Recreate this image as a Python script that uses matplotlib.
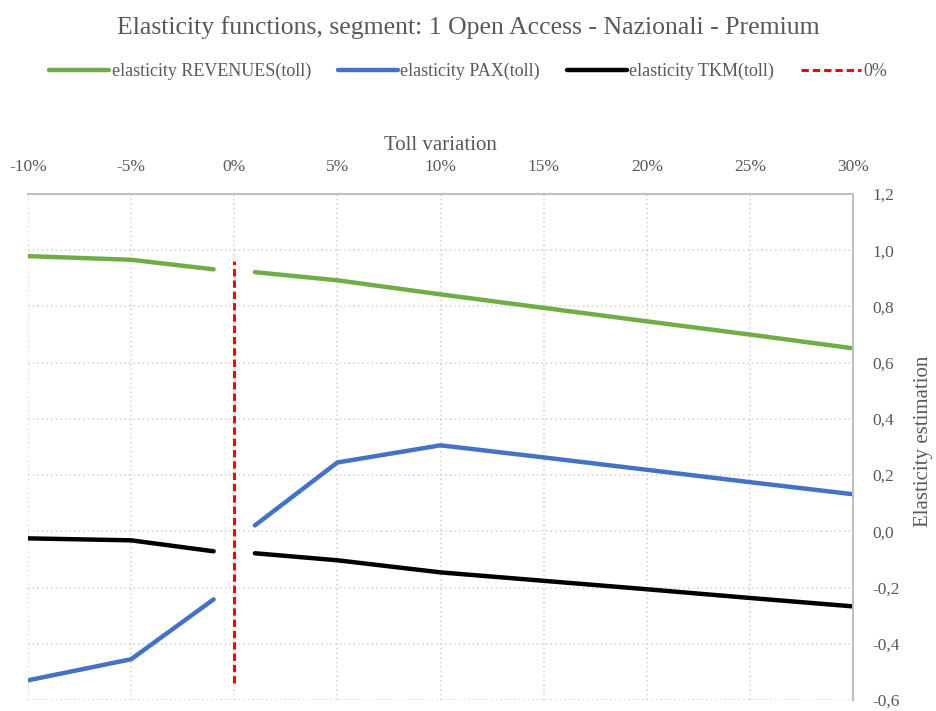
import matplotlib
matplotlib.use("Agg")
from matplotlib import pyplot as plt
from matplotlib.ticker import FuncFormatter

plt.rcParams['font.family'] = ['Liberation Serif', 'DejaVu Serif']

# Dati (variazione pedaggio in %)
variazione_neg = [-10, -5, -1]
variazione_pos = [1, 5, 10, 15, 20, 25, 30]

revenues_neg = [0.979, 0.966, 0.932]
revenues_pos = [0.922, 0.893, 0.843, 0.795, 0.747, 0.700, 0.651]

pax_neg = [-0.530, -0.455, -0.242]
pax_pos = [0.021, 0.245, 0.306, 0.263, 0.219, 0.175, 0.132]

tkm_neg = [-0.025, -0.032, -0.071]
tkm_pos = [-0.078, -0.103, -0.146, -0.176, -0.206, -0.237, -0.267]

linea_zero_x = [0, 0]
linea_zero_y = [-0.54, 0.96]

grigio = '#595959'
verde = '#70AD47'
blu = '#4472C4'

fig = plt.figure(figsize=(9.37, 7.11), dpi=100)
ax = fig.add_axes([28 / 937, 11 / 711, 825 / 937, 506 / 711])

ax.plot(variazione_neg, revenues_neg, color=verde, lw=3.2, solid_capstyle='round', label='elasticity REVENUES(toll)')
ax.plot(variazione_pos, revenues_pos, color=verde, lw=3.2, solid_capstyle='round')
ax.plot(variazione_neg, pax_neg, color=blu, lw=3.2, solid_capstyle='round', label='elasticity PAX(toll)')
ax.plot(variazione_pos, pax_pos, color=blu, lw=3.2, solid_capstyle='round')
ax.plot(variazione_neg, tkm_neg, color='black', lw=3.2, solid_capstyle='round', label='elasticity TKM(toll)')
ax.plot(variazione_pos, tkm_pos, color='black', lw=3.2, solid_capstyle='round')
ax.plot(linea_zero_x, linea_zero_y, color='#FF0000', lw=2.2, ls=(0, (2.4, 1.3)), label='0%')

ax.set_xlim(-10, 30)
ax.set_ylim(-0.6, 1.2)
ax.set_xticks(range(-10, 31, 5))
ax.set_yticks([-0.6 + 0.2 * i for i in range(10)])
ax.xaxis.set_major_formatter(FuncFormatter(lambda v, p: f'{v:.0f}%'))
ax.yaxis.set_major_formatter(FuncFormatter(lambda v, p: f'{v:.1f}'.replace('.', ',')))

ax.xaxis.tick_top()
ax.xaxis.set_label_position('top')
ax.yaxis.tick_right()
ax.tick_params(length=0, labelsize=12.5, labelcolor=grigio)
ax.tick_params(axis='x', pad=14)
ax.tick_params(axis='y', pad=14)

ax.grid(True, color='#d0d0d0', ls=(0, (1, 2)), lw=1.1)
for s in ['left', 'bottom']:
    ax.spines[s].set_visible(False)
for s in ['top', 'right']:
    ax.spines[s].set_color('#bfbfbf')
    ax.spines[s].set_linewidth(1.5)

ax.set_xlabel('Toll variation', fontsize=15, color=grigio, labelpad=6)
# etichetta asse y a destra, vicino al bordo come nell'originale
fig.text(924 / 937, 1 - 441 / 711, 'Elasticity estimation', rotation=90,
         ha='center', va='center', fontsize=15, color=grigio)

fig.suptitle('Elasticity functions, segment: 1 Open Access - Nazionali - Premium',
             fontsize=18.5, color=grigio, y=0.977)
fig.legend(loc='center', bbox_to_anchor=(0.5, 0.899), ncol=4, frameon=False,
           fontsize=13, labelcolor=grigio, handlelength=3.3, handletextpad=0.15, columnspacing=1.5)

fig.savefig('out.png', dpi=100)
